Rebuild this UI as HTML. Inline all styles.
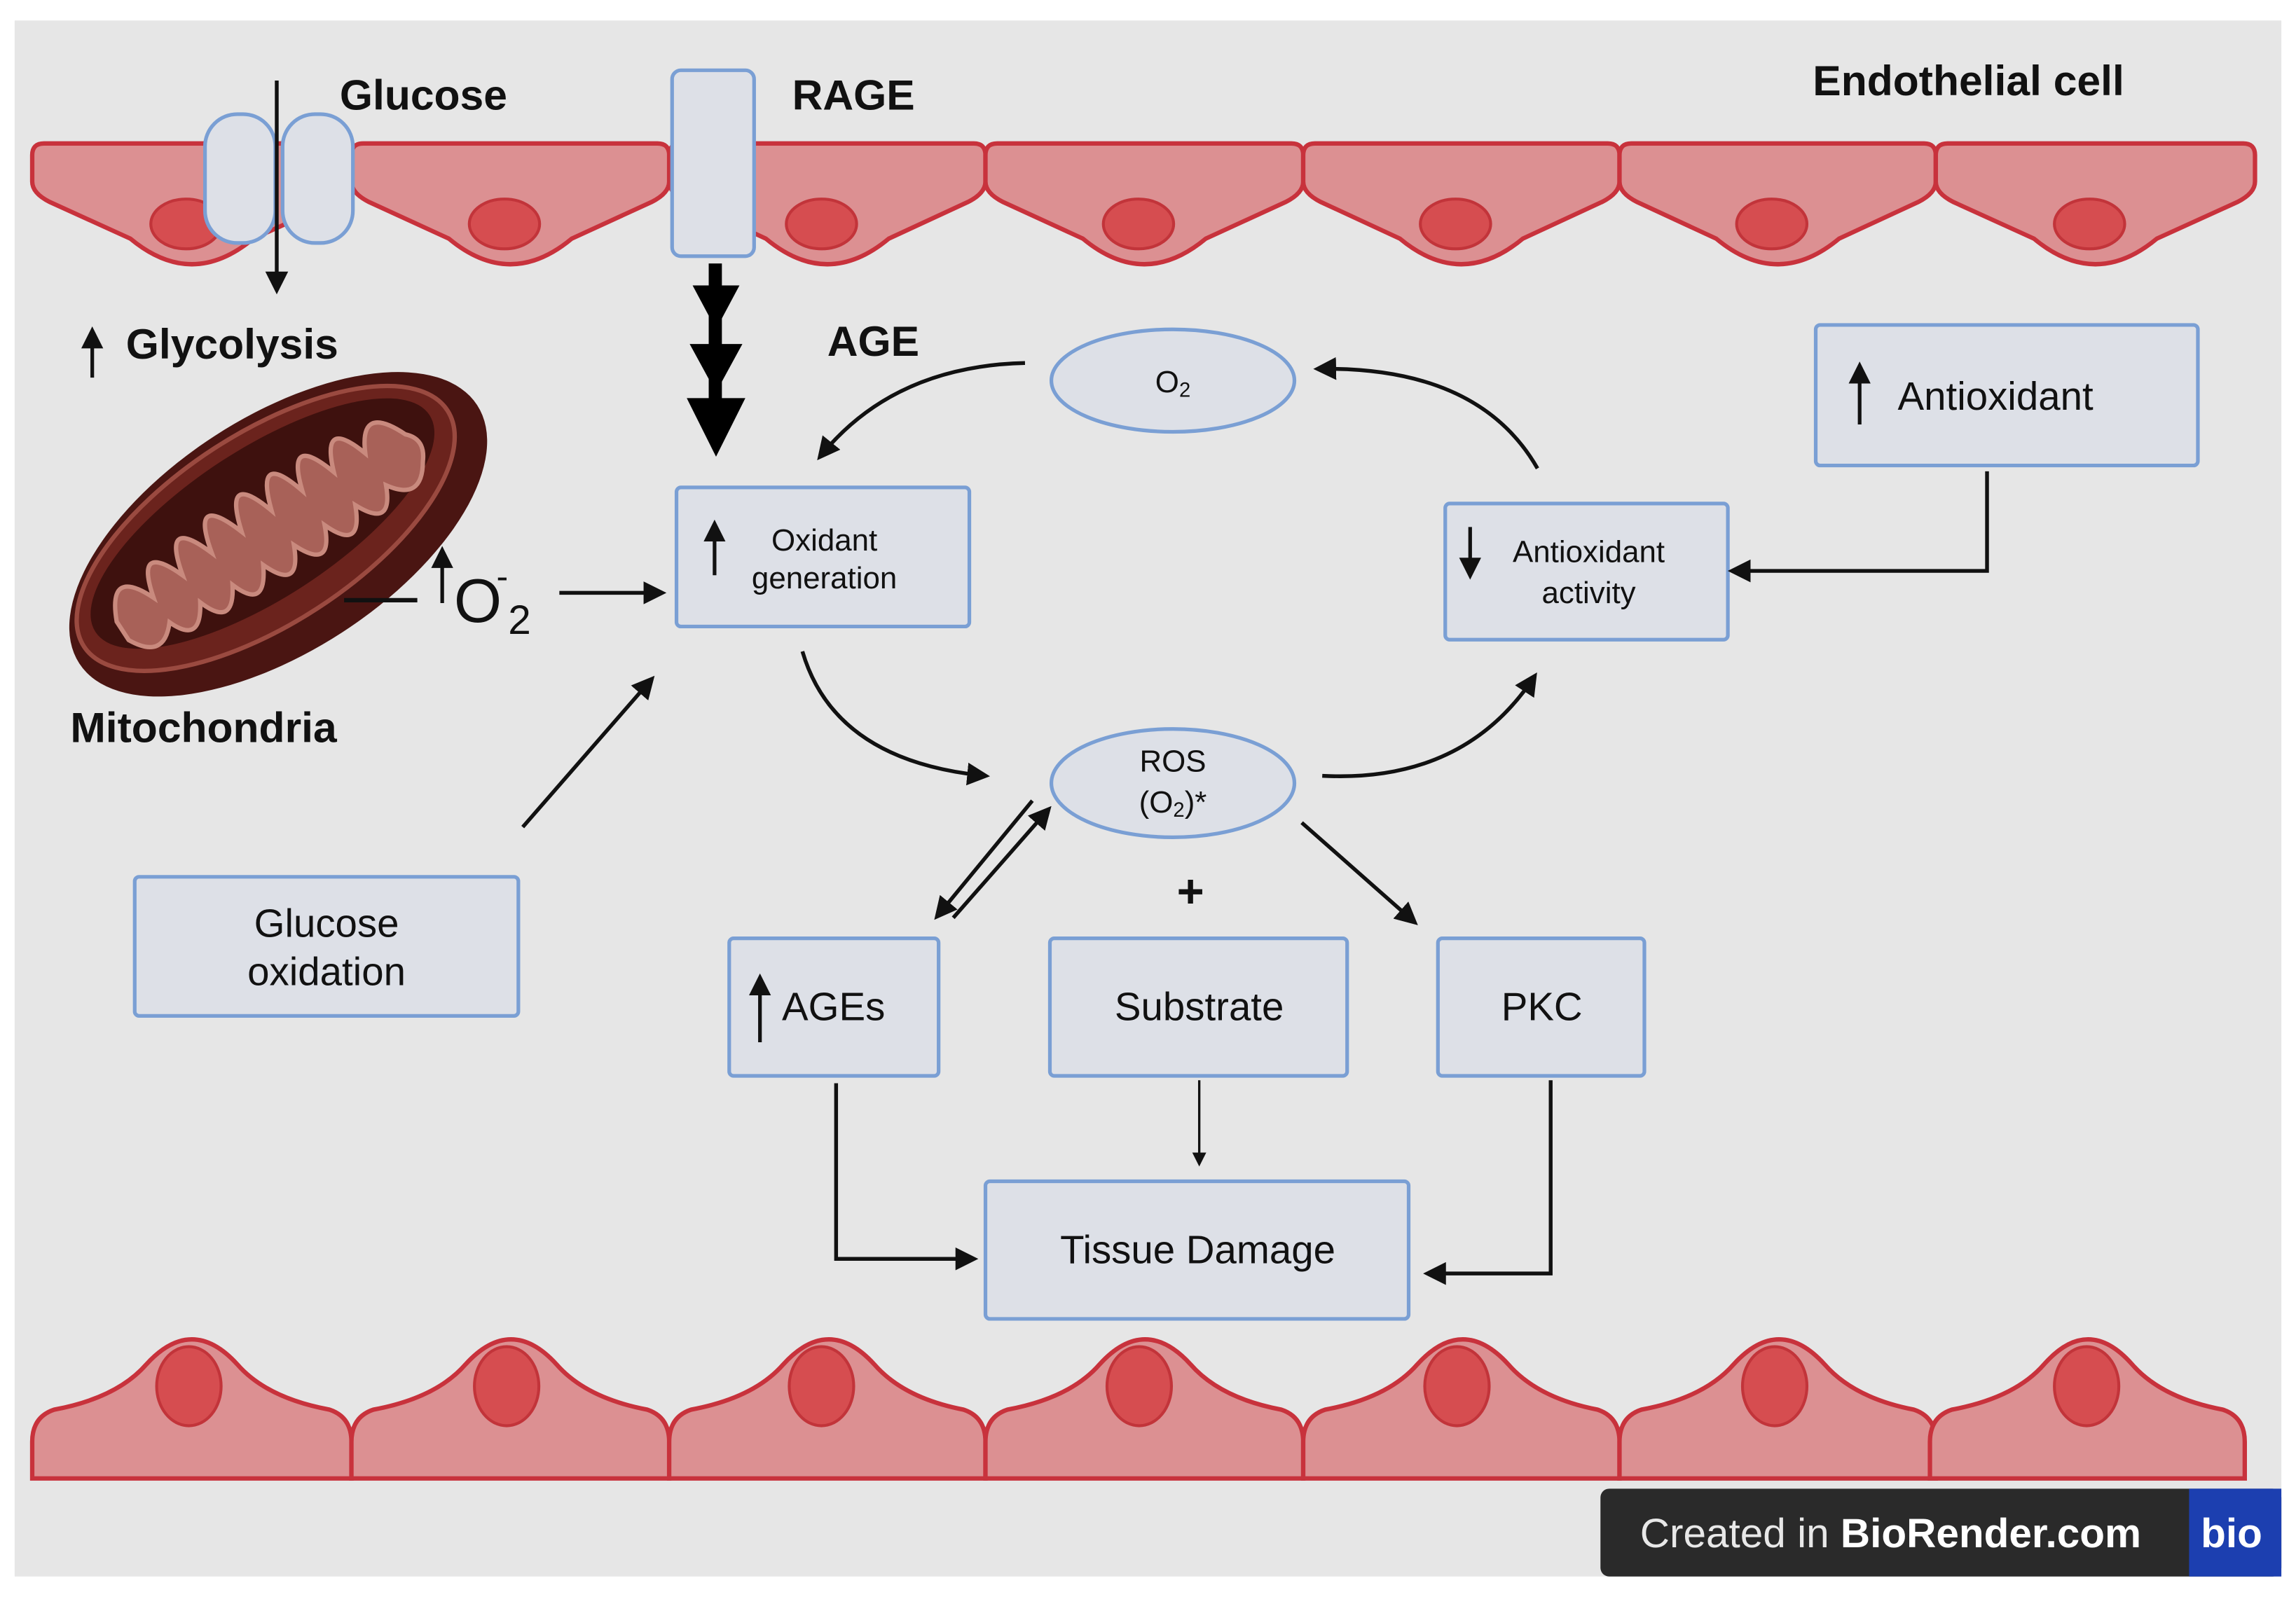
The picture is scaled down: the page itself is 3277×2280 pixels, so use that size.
<!DOCTYPE html>
<html><head><meta charset="utf-8"><style>
html,body{margin:0;padding:0;background:#fff}
svg{display:block}
text{font-family:"Liberation Sans",sans-serif;fill:#111}
.b{font-weight:bold;font-size:29px}
.n{font-size:27px}
.s{font-size:21px}
.box{fill:#dde0e7;stroke:#7a9fd4;stroke-width:2.5}
.cell{fill:#dc9092;stroke:#c8323c;stroke-width:3}
.nuc{fill:#d64d50;stroke:#c2343a;stroke-width:2}
.ln{fill:none;stroke:#111;stroke-width:2.6}
</style></head><body>
<svg width="3277" height="2280" viewBox="0 0 1568 1091" preserveAspectRatio="none" xmlns="http://www.w3.org/2000/svg">
<defs>
<marker id="a" viewBox="0 0 10 10" refX="8" refY="5" markerWidth="6" markerHeight="6" orient="auto-start-reverse"><path d="M0,0 L10,5 L0,10 z" fill="#111"/></marker>
</defs>
<rect x="0" y="0" width="1568" height="1091" fill="#fff"/>
<rect x="10" y="14" width="1548" height="1063" fill="#e6e6e6"/>

<g id="top"></g>
<script>
(function(){
var ns="http://www.w3.org/2000/svg",g=document.getElementById("top");
var xs=[22,240,457,673,890,1106,1322,1540];
for(var i=0;i<7;i++){var x0=xs[i],x1=xs[i+1],cx=(x0+x1)/2;
var p=document.createElementNS(ns,"path");p.setAttribute("class","cell");
p.setAttribute("d","M"+(x0+8)+",98 H"+(x1-8)+" Q"+x1+",98 "+x1+",106 V124 Q"+x1+",132 "+(x1-12)+",138 L"+(cx+42)+",163 Q"+cx+",198 "+(cx-42)+",163 L"+(x0+12)+",138 Q"+x0+",132 "+x0+",124 V106 Q"+x0+",98 "+(x0+8)+",98Z");
g.appendChild(p);
var e=document.createElementNS(ns,"ellipse");e.setAttribute("class","nuc");e.setAttribute("cx",cx-4);e.setAttribute("cy",153);e.setAttribute("rx",24);e.setAttribute("ry",17);g.appendChild(e);}
})();
</script>

<g>
<path class="cell" d="M22,1010 V985 Q22,968 37,963 Q80,955 100,932 Q131,898 162,932 Q182,955 225,963 Q240,968 240,985 V1010Z"/><ellipse class="nuc" cx="129" cy="947" rx="22" ry="27"/>
<path class="cell" d="M240,1010 V985 Q240,968 255,963 Q298,955 318,932 Q349,898 380,932 Q400,955 442,963 Q457,968 457,985 V1010Z"/><ellipse class="nuc" cx="346" cy="947" rx="22" ry="27"/>
<path class="cell" d="M457,1010 V985 Q457,968 472,963 Q515,955 535,932 Q566,898 597,932 Q617,955 658,963 Q673,968 673,985 V1010Z"/><ellipse class="nuc" cx="561" cy="947" rx="22" ry="27"/>
<path class="cell" d="M673,1010 V985 Q673,968 688,963 Q731,955 751,932 Q782,898 813,932 Q833,955 875,963 Q890,968 890,985 V1010Z"/><ellipse class="nuc" cx="778" cy="947" rx="22" ry="27"/>
<path class="cell" d="M890,1010 V985 Q890,968 905,963 Q948,955 968,932 Q999,898 1030,932 Q1050,955 1091,963 Q1106,968 1106,985 V1010Z"/><ellipse class="nuc" cx="995" cy="947" rx="22" ry="27"/>
<path class="cell" d="M1106,1010 V985 Q1106,968 1121,963 Q1164,955 1184,932 Q1215,898 1246,932 Q1266,955 1307,963 Q1322,968 1322,985 V1010Z"/><ellipse class="nuc" cx="1212" cy="947" rx="22" ry="27"/>
<path class="cell" d="M1318,1010 V985 Q1318,968 1333,963 Q1376,955 1396,932 Q1426,898 1456,932 Q1476,955 1518,963 Q1533,968 1533,985 V1010Z"/><ellipse class="nuc" cx="1425" cy="947" rx="22" ry="27"/>
</g>

<rect class="box" x="140" y="78" width="48" height="88" rx="22"/>
<rect class="box" x="193" y="78" width="48" height="88" rx="22"/>
<line class="ln" x1="189" y1="55" x2="189" y2="198" marker-end="url(#a)"/>
<rect class="box" x="459" y="48" width="56" height="127" rx="6"/>
<g fill="#000">
<rect x="484" y="180" width="9" height="110"/>
<polygon points="473,195 505,195 489,225"/>
<polygon points="471,235 507,235 489,268"/>
<polygon points="469,272 509,272 489,312"/>
</g>

<text class="b" x="232" y="75">Glucose</text>
<text class="b" x="541" y="75">RAGE</text>
<text class="b" x="1238" y="65">Endothelial cell</text>
<text class="b" x="86" y="245">Glycolysis</text>
<line x1="63" y1="258" x2="63" y2="226" stroke="#111" stroke-width="2.5" marker-end="url(#a)"/>
<text class="b" x="565" y="243">AGE</text>
<text class="b" x="48" y="507">Mitochondria</text>

<g transform="translate(190,365) rotate(-33)">
<ellipse cx="0" cy="0" rx="162" ry="80" fill="#4a1512"/>
<ellipse cx="-5" cy="-8" rx="148" ry="65" fill="#6b231d" stroke="#9a4a40" stroke-width="3"/>
<ellipse cx="-5" cy="-12" rx="136" ry="51" fill="#3e110e"/>
<path d="M-125,-10 Q-110,-45 -95,-10 Q-85,-50 -70,-12 Q-60,-55 -45,-14 Q-35,-58 -20,-15 Q-8,-58 5,-16 Q18,-58 30,-16 Q42,-56 55,-15 Q68,-52 80,-14 Q95,-45 110,-10 Q120,0 110,12 Q95,35 80,12 Q68,40 55,12 Q42,42 30,12 Q18,42 5,12 Q-8,42 -20,12 Q-35,40 -45,12 Q-60,38 -70,10 Q-85,35 -95,10 Q-112,30 -125,5 Z" fill="#a86158" stroke="#c98a7e" stroke-width="3"/>
</g>

<line x1="235" y1="410" x2="285" y2="410" stroke="#111" stroke-width="3"/>
<line x1="302" y1="412" x2="302" y2="376" stroke="#111" stroke-width="2.5" marker-end="url(#a)"/>
<text x="310" y="425" style="font-size:42px">O</text>
<text x="339" y="402" style="font-size:24px">-</text>
<text x="347" y="433" style="font-size:28px">2</text>
<line class="ln" x1="382" y1="405" x2="452" y2="405" marker-end="url(#a)"/>

<rect class="box" x="462" y="333" width="200" height="95" rx="3"/>
<line x1="488" y1="393" x2="488" y2="358" stroke="#111" stroke-width="2.5" marker-end="url(#a)"/>
<text class="s" x="563" y="376" text-anchor="middle">Oxidant</text>
<text class="s" x="563" y="402" text-anchor="middle">generation</text>

<rect class="box" x="987" y="344" width="193" height="93" rx="3"/>
<line x1="1004" y1="360" x2="1004" y2="393" stroke="#111" stroke-width="2.5" marker-end="url(#a)"/>
<text class="s" x="1085" y="384" text-anchor="middle">Antioxidant</text>
<text class="s" x="1085" y="412" text-anchor="middle">activity</text>

<rect class="box" x="1240" y="222" width="261" height="96" rx="3"/>
<line x1="1270" y1="290" x2="1270" y2="250" stroke="#111" stroke-width="2.5" marker-end="url(#a)"/>
<text class="n" x="1296" y="280">Antioxidant</text>

<rect class="box" x="92" y="599" width="262" height="95" rx="3"/>
<text class="n" x="223" y="640" text-anchor="middle">Glucose</text>
<text class="n" x="223" y="673" text-anchor="middle">oxidation</text>

<rect class="box" x="498" y="641" width="143" height="94" rx="3"/>
<line x1="519" y1="712" x2="519" y2="668" stroke="#111" stroke-width="2.5" marker-end="url(#a)"/>
<text class="n" x="534" y="697">AGEs</text>

<rect class="box" x="717" y="641" width="203" height="94" rx="3"/>
<text class="n" x="819" y="697" text-anchor="middle">Substrate</text>

<rect class="box" x="982" y="641" width="141" height="94" rx="3"/>
<text class="n" x="1053" y="697" text-anchor="middle">PKC</text>

<rect class="box" x="673" y="807" width="289" height="94" rx="3"/>
<text class="n" x="818" y="863" text-anchor="middle">Tissue Damage</text>

<ellipse class="box" cx="801" cy="260" rx="83" ry="35"/>
<text class="s" x="801" y="268" text-anchor="middle">O<tspan style="font-size:14px" dy="3">2</tspan></text>
<ellipse class="box" cx="801" cy="535" rx="83" ry="37"/>
<text class="s" x="801" y="527" text-anchor="middle">ROS</text>
<text class="s" x="801" y="555" text-anchor="middle">(O<tspan style="font-size:14px" dy="3">2</tspan><tspan dy="-3">)*</tspan></text>

<path class="ln" d="M700,248 Q610,250 560,312" marker-end="url(#a)"/>
<path class="ln" d="M1050,320 Q1010,250 900,252" marker-end="url(#a)"/>
<path class="ln" d="M548,445 Q570,520 673,530" marker-end="url(#a)"/>
<path class="ln" d="M903,530 Q1000,535 1048,462" marker-end="url(#a)"/>
<path class="ln" d="M1357,322 V390 H1183" marker-end="url(#a)"/>
<line class="ln" x1="357" y1="565" x2="445" y2="464" marker-end="url(#a)"/>
<line class="ln" x1="705" y1="547" x2="640" y2="626" marker-end="url(#a)"/>
<line class="ln" x1="651" y1="627" x2="716" y2="553" marker-end="url(#a)"/>
<line class="ln" x1="889" y1="562" x2="966" y2="630" marker-end="url(#a)"/>
<text x="813" y="620" text-anchor="middle" style="font-size:32px;font-weight:bold">+</text>
<path class="ln" d="M571,740 V860 H665" marker-end="url(#a)"/>
<line x1="819" y1="738" x2="819" y2="795" stroke="#111" stroke-width="1.6" marker-end="url(#a)"/>
<path class="ln" d="M1059,738 V870 H975" marker-end="url(#a)"/>

<rect x="1093" y="1017" width="465" height="60" rx="6" fill="#2a2a2a"/>
<rect x="1495" y="1017" width="63" height="60" fill="#1c3fb0"/>
<text x="1120" y="1057" style="font-size:28px;fill:#e8e8e8">Created in <tspan style="font-weight:bold;fill:#fff">BioRender.com</tspan></text>
<text x="1503" y="1057" style="font-size:28px;font-weight:bold;fill:#fff">bio</text>
</svg>
</body></html>
